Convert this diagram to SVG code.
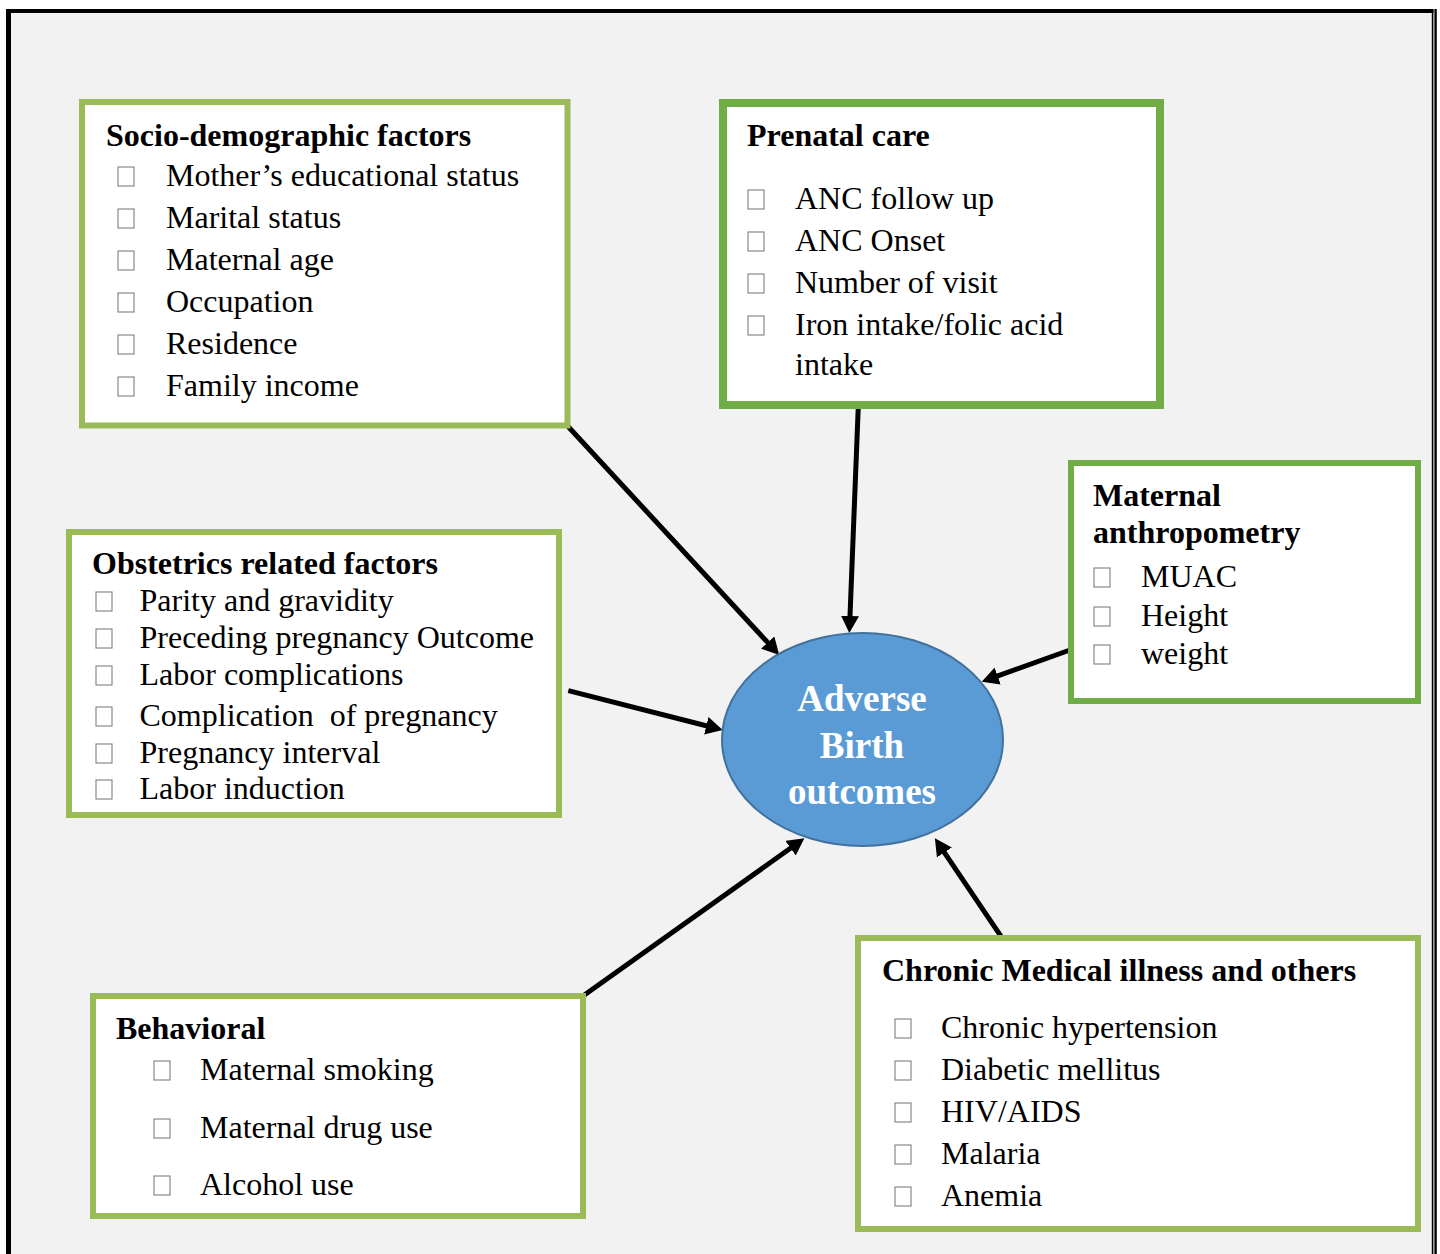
<svg xmlns="http://www.w3.org/2000/svg" xmlns:xlink="http://www.w3.org/1999/xlink" width="1440" height="1254" viewBox="0 0 1440 1254">
<style>
.bg{fill:#F2F2F2}
.frame{stroke:#000;fill:none}
.box{fill:#FFFFFF;stroke:#9BBB59;stroke-width:6}
.box2{fill:#FFFFFF;stroke:#70AD47}
.t{font-family:"Liberation Serif","Times New Roman",serif;font-size:32px;fill:#000}
.h{font-family:"Liberation Serif","Times New Roman",serif;font-size:32px;font-weight:bold;fill:#000}
.c{font-family:"Liberation Serif","Times New Roman",serif;font-size:37px;font-weight:bold;fill:#FFFFFF;text-anchor:middle}
.bul{fill:#FFFFFF;stroke:#7F7F7F;stroke-width:1.1}
.arr{stroke:#000;stroke-width:5;fill:none;marker-end:url(#ah)}
</style>
<defs>
<rect id="bul" class="bul" width="16" height="19"/>
<marker id="ah" markerUnits="userSpaceOnUse" markerWidth="18" markerHeight="18" refX="5" refY="9" orient="auto" viewBox="0 0 18 18">
<path d="M0,0 L17,9 L0,18 z" fill="#000"/>
</marker>
</defs>
<rect x="0" y="0" width="1440" height="1254" fill="#FFFFFF"/>
<rect class="bg" x="10" y="11" width="1422" height="1243"/>
<g id="frame">
<line class="frame" x1="8.5" y1="9" x2="8.5" y2="1254" stroke-width="5"/>
<line class="frame" x1="6" y1="11" x2="1433.5" y2="11" stroke-width="4"/>
<line class="frame" x1="1432.6" y1="9" x2="1432.6" y2="1254" stroke-width="1.6"/>
<line class="frame" x1="1435.6" y1="9" x2="1435.6" y2="1254" stroke-width="2.4"/>
</g>

<g id="connectors">
<path class="arr" d="M568.3,426.7 L771.1,646.2"/>
<path class="arr" d="M858.3,406 L849.8,621"/>
<path class="arr" d="M568.3,690.7 L711.1,727"/>
<path class="arr" d="M583.3,995.7 L794.6,845.3"/>
<path class="arr" d="M1001.7,937.3 L941.6,848.3"/>
<path class="arr" d="M1070,650 L993,677.7"/>
</g>

<g id="socio">
<rect class="box" x="82" y="102" width="485.5" height="323.5"/>
<text class="h" x="106" y="146">Socio-demographic factors</text>
<use xlink:href="#bul" x="118" y="167"/>
<text class="t" x="166" y="186">Mother’s educational status</text>
<use xlink:href="#bul" x="118" y="209"/>
<text class="t" x="166" y="228">Marital status</text>
<use xlink:href="#bul" x="118" y="251"/>
<text class="t" x="166" y="270">Maternal age</text>
<use xlink:href="#bul" x="118" y="293"/>
<text class="t" x="166" y="312">Occupation</text>
<use xlink:href="#bul" x="118" y="335"/>
<text class="t" x="166" y="354">Residence</text>
<use xlink:href="#bul" x="118" y="377"/>
<text class="t" x="166" y="396">Family income</text>
</g>

<g id="prenatal">
<rect class="box2" x="723" y="103" width="437" height="302" stroke-width="8"/>
<text class="h" x="747" y="146">Prenatal care</text>
<use xlink:href="#bul" x="748" y="190"/>
<text class="t" x="795" y="209">ANC follow up</text>
<use xlink:href="#bul" x="748" y="232"/>
<text class="t" x="795" y="251">ANC Onset</text>
<use xlink:href="#bul" x="748" y="274"/>
<text class="t" x="795" y="293">Number of visit</text>
<use xlink:href="#bul" x="748" y="316"/>
<text class="t" x="795" y="335">Iron intake/folic acid</text>
<text class="t" x="795" y="375">intake</text>
</g>

<g id="anthropometry">
<rect class="box2" x="1071" y="463" width="347" height="238" stroke-width="6"/>
<text class="h" x="1093" y="506">Maternal</text>
<text class="h" x="1093" y="543">anthropometry</text>
<use xlink:href="#bul" x="1094" y="568"/>
<text class="t" x="1141" y="587">MUAC</text>
<use xlink:href="#bul" x="1094" y="607"/>
<text class="t" x="1141" y="626">Height</text>
<use xlink:href="#bul" x="1094" y="645"/>
<text class="t" x="1141" y="664">weight</text>
</g>

<g id="obstetrics">
<rect class="box" x="69" y="532" width="490" height="283"/>
<text class="h" x="92" y="574">Obstetrics related factors</text>
<use xlink:href="#bul" x="96" y="592"/>
<text class="t" x="139.5" y="611">Parity and gravidity</text>
<use xlink:href="#bul" x="96" y="629"/>
<text class="t" x="139.5" y="648">Preceding pregnancy Outcome</text>
<use xlink:href="#bul" x="96" y="666"/>
<text class="t" x="139.5" y="685">Labor complications</text>
<use xlink:href="#bul" x="96" y="707"/>
<text class="t" x="139.5" y="726" style="white-space:pre">Complication  of pregnancy</text>
<use xlink:href="#bul" x="96" y="744"/>
<text class="t" x="139.5" y="763">Pregnancy interval</text>
<use xlink:href="#bul" x="96" y="780"/>
<text class="t" x="139.5" y="799">Labor induction</text>
</g>

<g id="outcome">
<ellipse cx="862.5" cy="739.5" rx="140.5" ry="106.5" fill="#5B9BD5" stroke="#41719C" stroke-width="2"/>
<text class="c" x="862" y="711">Adverse</text>
<text class="c" x="862" y="758">Birth</text>
<text class="c" x="862" y="804">outcomes</text>
</g>

<g id="behavioral">
<rect class="box" x="93" y="996" width="490" height="220"/>
<text class="h" x="116" y="1039">Behavioral</text>
<use xlink:href="#bul" x="154" y="1061"/>
<text class="t" x="200" y="1080">Maternal smoking</text>
<use xlink:href="#bul" x="154" y="1119"/>
<text class="t" x="200" y="1138">Maternal drug use</text>
<use xlink:href="#bul" x="154" y="1176"/>
<text class="t" x="200" y="1195">Alcohol use</text>
</g>

<g id="chronic">
<rect class="box" x="858" y="938" width="560" height="291"/>
<text class="h" x="882" y="981">Chronic Medical illness and others</text>
<use xlink:href="#bul" x="895" y="1019"/>
<text class="t" x="941" y="1038">Chronic hypertension</text>
<use xlink:href="#bul" x="895" y="1061"/>
<text class="t" x="941" y="1080">Diabetic mellitus</text>
<use xlink:href="#bul" x="895" y="1103"/>
<text class="t" x="941" y="1122">HIV/AIDS</text>
<use xlink:href="#bul" x="895" y="1145"/>
<text class="t" x="941" y="1164">Malaria</text>
<use xlink:href="#bul" x="895" y="1187"/>
<text class="t" x="941" y="1206">Anemia</text>
</g>
</svg>
